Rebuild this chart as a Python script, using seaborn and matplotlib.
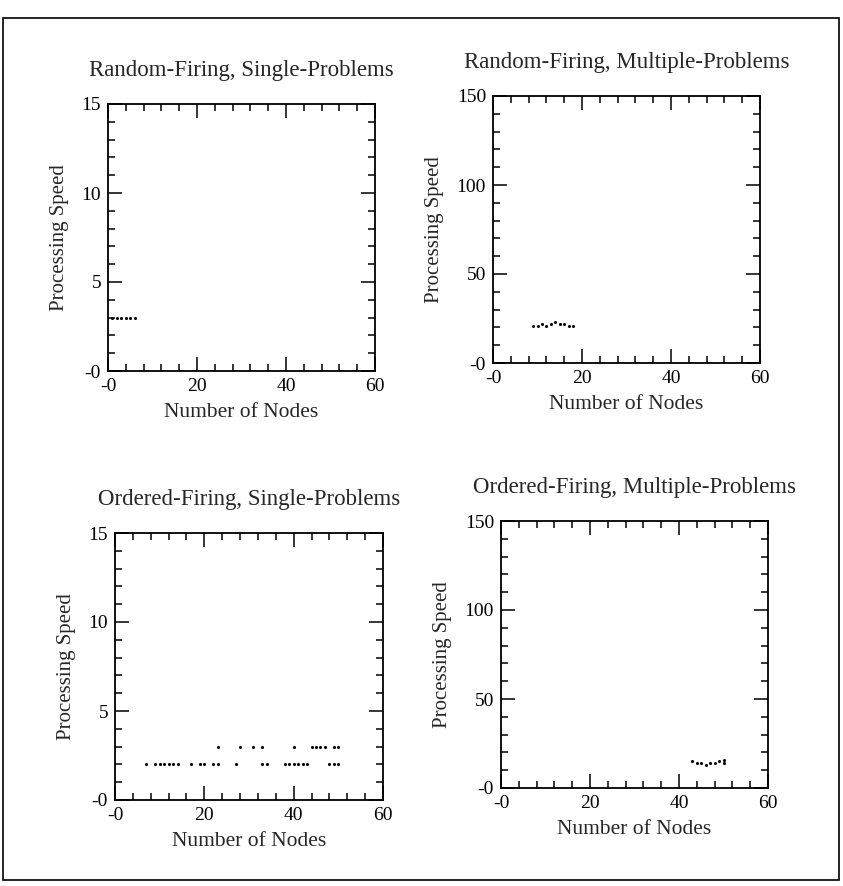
import matplotlib
matplotlib.use("Agg")
import matplotlib.pyplot as plt
import matplotlib.ticker as mticker
from matplotlib.patches import Rectangle
import pandas as pd
import seaborn as sns

# values
rs_nodes = [1, 2, 3, 4, 5, 6]
rs_speed = [3, 3, 3, 3, 3, 3]

rm_nodes = [9, 10, 11, 12, 13, 14, 15, 16, 17, 18]
rm_speed = [21, 21, 22, 21, 22, 23, 22, 22, 21, 21]

os_nodes = [7, 9, 10, 11, 12, 13, 14, 17, 19, 20, 22, 23, 27, 33, 34, 38, 39, 40, 41, 42, 43, 48, 49, 50,
            23, 28, 31, 33, 40, 44, 45, 46, 47, 49, 50]
os_speed = [2, 2, 2, 2, 2, 2, 2, 2, 2, 2, 2, 2, 2, 2, 2, 2, 2, 2, 2, 2, 2, 2, 2, 2,
            3, 3, 3, 3, 3, 3, 3, 3, 3, 3, 3]

om_nodes = [43, 44, 45, 46, 47, 48, 49, 50, 50]
om_speed = [15, 14, 14, 13, 14, 14, 15, 14, 16]

titles = ["Random-Firing, Single-Problems", "Random-Firing, Multiple-Problems",
          "Ordered-Firing, Single-Problems", "Ordered-Firing, Multiple-Problems"]
x_ticks = [0, 20, 40, 60]
x_labels = ["-0", "20", "40", "60"]
y_ticks_single = [0, 5, 10, 15]
y_labels_single = ["-0", "5", "10", "15"]
y_ticks_multi = [0, 50, 100, 150]
y_labels_multi = ["-0", "50", "100", "150"]

sns.set_theme(style="ticks")
plt.rcParams["font.family"] = ["Liberation Serif", "DejaVu Serif"]

W, H = 843, 886
fig = plt.figure(figsize=(W / 100, H / 100), dpi=100)

# axes boxes in pixels: left, right, top, bottom
boxes = [(108, 375, 104, 371), (493, 760, 96, 363), (115, 383, 533, 800), (501, 768, 521, 788)]
panels = [(rs_nodes, rs_speed, 15, y_ticks_single, y_labels_single, 1),
          (rm_nodes, rm_speed, 150, y_ticks_multi, y_labels_multi, 10),
          (os_nodes, os_speed, 15, y_ticks_single, y_labels_single, 1),
          (om_nodes, om_speed, 150, y_ticks_multi, y_labels_multi, 10)]

for (l, r, t, b), (xs, ys, ymax, yt, yl, ymin_step), title in zip(boxes, panels, titles):
    ax = fig.add_axes([l / W, 1 - b / H, (r - l) / W, (b - t) / H])
    df = pd.DataFrame({"nodes": xs, "speed": ys})
    sns.scatterplot(data=df, x="nodes", y="speed", ax=ax, color="black", s=5,
                    marker="o", linewidth=0)
    ax.set_xlim(0, 60)
    ax.set_ylim(0, ymax)
    ax.xaxis.set_major_locator(mticker.FixedLocator(x_ticks))
    ax.xaxis.set_major_formatter(mticker.FixedFormatter(x_labels))
    ax.xaxis.set_minor_locator(mticker.MultipleLocator(4))
    ax.yaxis.set_major_locator(mticker.FixedLocator(yt))
    ax.yaxis.set_major_formatter(mticker.FixedFormatter(yl))
    ax.yaxis.set_minor_locator(mticker.MultipleLocator(ymin_step))
    ax.tick_params(which="both", direction="in", top=True, right=True, width=1.1,
                   colors="black", labelsize=14, pad=5)
    ax.tick_params(which="major", length=10)
    ax.tick_params(which="minor", length=5)
    for sp in ax.spines.values():
        sp.set_linewidth(1.3)
        sp.set_color("black")
    ax.set_xlabel("Number of Nodes", fontsize=15.5, labelpad=6)
    ax.set_ylabel("Processing Speed", fontsize=15, labelpad=9)
    ax.set_title(title, fontsize=16.5, pad=20)

# outer frame of the scanned page
fig.add_artist(Rectangle((3 / W, 1 - 880 / H), 836 / W, 862 / H, transform=fig.transFigure,
                         fill=False, edgecolor="black", linewidth=1.2))

fig.savefig("out.png", dpi=100)
